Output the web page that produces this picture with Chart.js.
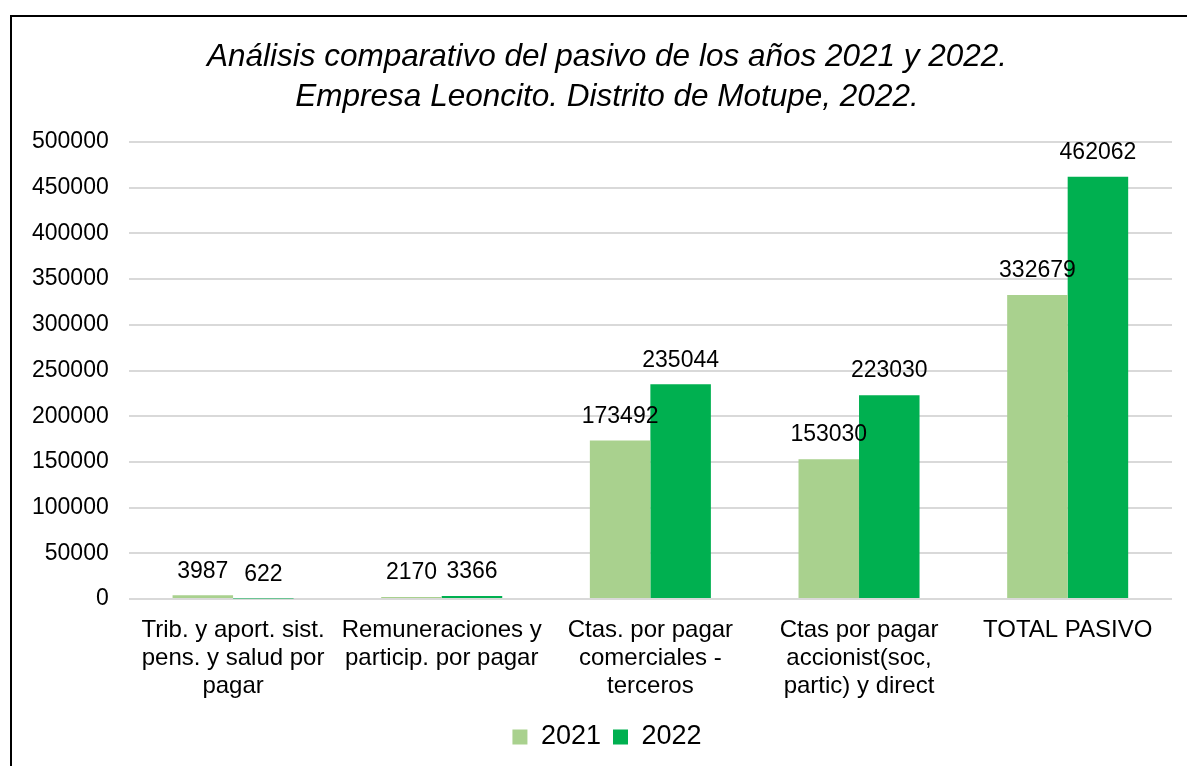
<!DOCTYPE html>
<html>
<head>
<meta charset="utf-8">
<script src="https://cdn.jsdelivr.net/npm/chart.js@4.4.1/dist/chart.umd.min.js"></script>
<style>
  html, body { margin: 0; padding: 0; background: #fff; width: 1187px; height: 766px; overflow: hidden; }
  #frame { position: absolute; left: 10px; top: 15px; width: 1300px; height: 900px;
           border-left: 2px solid #000; border-top: 2px solid #000; }
  #wrap { position: absolute; left: 12px; top: 17px; width: 1190px; height: 749px; }
</style>
</head>
<body>
<div id="frame"></div>
<div id="wrap"><canvas id="c"></canvas></div>
<script>
const categories = [
  ["Trib. y aport. sist.", "pens. y salud por", "pagar"],
  ["Remuneraciones y", "particip. por pagar"],
  ["Ctas. por pagar", "comerciales -", "terceros"],
  ["Ctas por pagar", "accionist(soc,", "partic) y direct"],
  ["TOTAL PASIVO"]
];
const values2021 = [3987, 2170, 173492, 153030, 332679];
const values2022 = [622, 3366, 235044, 223030, 462062];
const seriesNames = ["2021", "2022"];
const titleLines = ["Análisis comparativo del pasivo de los años 2021 y 2022.", "Empresa Leoncito. Distrito de Motupe, 2022."];

const FONT = "'Liberation Sans', Arial, sans-serif";

const valueLabels = {
  id: 'valueLabels',
  afterDatasetsDraw(chart) {
    const ctx = chart.ctx;
    ctx.save();
    ctx.font = "23px " + FONT;
    ctx.fillStyle = "#000";
    ctx.textAlign = "center";
    ctx.textBaseline = "middle";
    chart.data.datasets.forEach((ds, i) => {
      const meta = chart.getDatasetMeta(i);
      meta.data.forEach((bar, j) => {
        ctx.fillText(String(ds.data[j]), bar.x, bar.y - 24);
      });
    });
    ctx.restore();
  }
};

new Chart(document.getElementById('c'), {
  type: 'bar',
  data: {
    labels: categories,
    datasets: [
      { label: seriesNames[0], data: values2021, backgroundColor: '#A9D18E', borderWidth: 0 },
      { label: seriesNames[1], data: values2022, backgroundColor: '#00B050', borderWidth: 0 }
    ]
  },
  options: {
    responsive: true,
    maintainAspectRatio: false,
    animation: false,
    categoryPercentage: 0.58,
    barPercentage: 1.0,
    layout: { padding: { left: 0, right: 0, top: 0, bottom: 5.5 } },
    plugins: {
      title: {
        display: true,
        text: titleLines,
        color: '#000',
        font: { family: FONT, size: 31.5, style: 'italic', weight: 'normal', lineHeight: 1.27 },
        padding: { top: 20, bottom: 25 }
      },
      legend: {
        position: 'bottom',
        labels: {
          color: '#000',
          font: { family: FONT, size: 27 },
          boxWidth: 15, boxHeight: 15,
          padding: 12
        }
      },
      tooltip: { enabled: false }
    },
    scales: {
      x: {
        grid: { display: false, drawTicks: false },
        border: { display: false },
        ticks: {
          color: '#000',
          font: { family: FONT, size: 24, lineHeight: 1.17 },
          padding: 17,
          maxRotation: 0, autoSkip: false
        },
        afterFit: s => { s.height = 112.5; }
      },
      y: {
        min: 0, max: 500000,
        grid: { color: '#D9D9D9', lineWidth: 2, drawTicks: false },
        border: { display: false },
        ticks: {
          stepSize: 50000,
          color: '#000',
          font: { family: FONT, size: 23 },
          padding: 20,
          callback: v => String(v)
        }
      },
      yRight: {
        position: 'right',
        display: true,
        grid: { display: false, drawTicks: false },
        border: { display: false },
        ticks: { display: false },
        afterFit: s => { s.width = 30; }
      }
    }
  },
  plugins: [valueLabels]
});
</script>
</body>
</html>
